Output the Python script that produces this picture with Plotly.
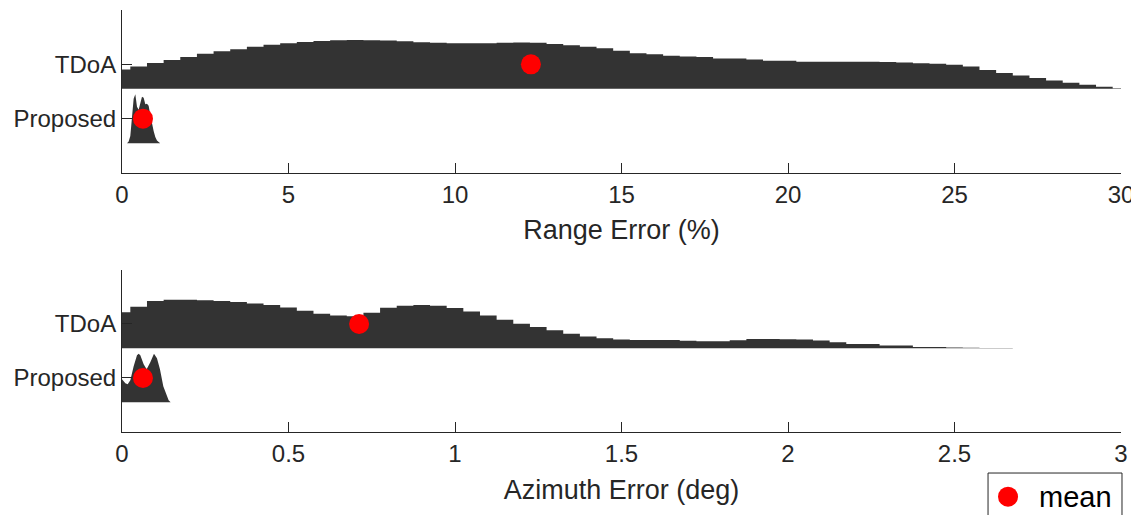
import plotly.graph_objects as go

# ---------------- data ----------------
categories = ["Proposed", "TDoA"]
cat_pos = [1, 2]

# Range error (%) - density profiles (relative heights)
range_tdoa_x = [0, 0.5, 1, 1.5, 2, 2.5, 3, 3.5, 4, 4.5, 5, 5.5, 6, 6.5, 7, 7.5, 8, 8.5, 9, 9.5,
                10, 10.5, 11, 11.5, 12, 12.5, 13, 13.5, 14, 14.5, 15, 15.5, 16, 16.5, 17, 17.5,
                18, 18.5, 19, 19.5, 20, 20.5, 21, 21.5, 22, 22.5, 23, 23.5, 24, 24.5, 25, 25.5,
                26, 26.5, 27, 27.5, 28, 28.5, 29, 29.5, 30]
range_tdoa_d = [19, 22, 25.5, 28.5, 31.5, 34.5, 37, 39, 41.5, 43.5, 45, 46.3, 47.3, 48, 48.3, 48,
                47.7, 47, 46, 45.5, 45, 45, 45, 45.5, 45.7, 45.5, 44.3, 43, 41.5, 40, 37.5, 35,
                34, 32.7, 32, 31.3, 30, 30, 29, 27.7, 27.7, 26.7, 26.7, 26.7, 26.7, 26.7, 26.5,
                26, 25.3, 24.7, 23.7, 22, 18.5, 15.7, 13.2, 10.7, 8.2, 6, 4, 2, 0.5]

range_prop_x = [0.15, 0.2, 0.25, 0.3, 0.35, 0.4, 0.45, 0.5, 0.55, 0.6, 0.65, 0.7, 0.75, 0.8,
                0.85, 0.9, 0.95, 1.0, 1.05, 1.1, 1.15]
range_prop_d = [0, 1.5, 7, 24, 44, 48.5, 36, 33, 40, 46, 45, 38.5, 39, 37, 28, 19, 12, 6, 2.5, 1, 0]

# Azimuth error (deg) - density profiles (relative heights)
az_tdoa_x = [0, 0.05, 0.1, 0.15, 0.2, 0.25, 0.3, 0.35, 0.4, 0.45, 0.5, 0.55, 0.6, 0.65, 0.7,
             0.75, 0.8, 0.85, 0.9, 0.95, 1.0, 1.05, 1.1, 1.15, 1.2, 1.25, 1.3, 1.35, 1.4, 1.45,
             1.5, 1.55, 1.6, 1.65, 1.7, 1.75, 1.8, 1.85, 1.9, 1.95, 2.0, 2.05, 2.1, 2.15, 2.2,
             2.25, 2.3, 2.35, 2.4, 2.45, 2.5, 2.55, 2.6, 2.65, 2.7]
az_tdoa_d = [35.7, 41, 46.7, 48, 48, 47.5, 46.7, 45.7, 44.3, 42.7, 40.3, 37, 34, 32.3, 31.7,
             35, 40, 42, 42.7, 42, 39.7, 36.3, 32.3, 28.3, 24.3, 21, 17.7, 14.3, 11.7, 10,
             8.7, 8.3, 8.3, 8.3, 7.5, 7, 7, 8, 9.3, 9.3, 9, 8.7, 7.7, 6, 4.3,
             4.3, 2.7, 2.7, 1.3, 1.3, 0.7, 0.5, 0.3, 0.2, 0]

az_prop_x = [0, 0.01, 0.017, 0.025, 0.035, 0.045, 0.05, 0.055, 0.065, 0.074, 0.085, 0.096,
             0.105, 0.114, 0.124, 0.134, 0.14, 0.146]
az_prop_d = [23, 19, 18, 22, 36, 47, 48.5, 47, 38, 33, 40, 48.4, 44, 33, 16, 6, 2, 0]

# means
range_means = [0.63, 12.28]   # Proposed, TDoA
az_means = [0.063, 0.712]

range_ticks = [0, 5, 10, 15, 20, 25, 30]
az_ticks = [0, 0.5, 1, 1.5, 2, 2.5, 3]
az_ticktext = ["0", "0.5", "1", "1.5", "2", "2.5", "3"]

# ---------------- styling ----------------
FILL = "#333333"
AX = "#262626"
FONT = "Liberation Sans, Arial, Helvetica, sans-serif"
HALF_OFFSET = 0.45   # baseline below category position
HEIGHT = 0.9         # peak height of each half-violin

fig = go.Figure()


def add_half_violin(xs, ds, pos, xa, ya, shape):
    m = max(ds)
    base = pos - HALF_OFFSET
    ys = [base + HEIGHT * d / m for d in ds]
    fig.add_trace(go.Scatter(
        x=list(xs) + [xs[-1], xs[0]], y=ys + [base, base],
        mode="lines", fill="toself", fillcolor=FILL,
        line=dict(width=0, color=FILL, shape=shape),
        xaxis=xa, yaxis=ya, showlegend=False, hoverinfo="skip"))


add_half_violin(range_tdoa_x, range_tdoa_d, cat_pos[1], "x", "y", "hvh")
add_half_violin(range_prop_x, range_prop_d, cat_pos[0], "x", "y", "linear")
add_half_violin(az_tdoa_x, az_tdoa_d, cat_pos[1], "x2", "y2", "hvh")
add_half_violin(az_prop_x, az_prop_d, cat_pos[0], "x2", "y2", "linear")

fig.add_trace(go.Scatter(x=range_means, y=cat_pos, mode="markers", name="mean",
                         marker=dict(color="#ff0000", size=20), xaxis="x", yaxis="y",
                         showlegend=False))
fig.add_trace(go.Scatter(x=az_means, y=cat_pos, mode="markers", name="mean",
                         marker=dict(color="#ff0000", size=20), xaxis="x2", yaxis="y2",
                         showlegend=False))

axis_common = dict(showline=True, linecolor=AX, linewidth=1, ticks="inside", ticklen=10,
                   tickcolor=AX, tickwidth=1, showgrid=False, zeroline=False,
                   ticklabeloverflow="allow",
                   tickfont=dict(size=24, color=AX, family=FONT))

# page body has an 8px margin: figure offset by 8px inside the window
fig.update_layout(
    width=1131, height=507,
    margin=dict(l=114, r=18, t=2, b=83, autoexpand=False),
    plot_bgcolor="white", paper_bgcolor="white",
    font=dict(family=FONT, color=AX),
    showlegend=False,
    xaxis=dict(domain=[0, 1], anchor="y", range=[0, 30], tickvals=range_ticks,
               title=dict(text="Range Error (%)", font=dict(size=27, color=AX), standoff=13),
               **axis_common),
    yaxis=dict(domain=[0.6137, 1.0], anchor="x", range=[0, 3], tickvals=cat_pos,
               ticktext=categories, **axis_common),
    xaxis2=dict(domain=[0, 1], anchor="y2", range=[0, 3], tickvals=az_ticks,
                ticktext=az_ticktext,
                title=dict(text="Azimuth Error (deg)", font=dict(size=27, color=AX), standoff=14),
                **axis_common),
    yaxis2=dict(domain=[0, 0.3839], anchor="x2", range=[0, 3], tickvals=cat_pos,
                ticktext=categories, **axis_common),
)

# legend box ("mean")
fig.add_shape(type="rect", xref="paper", yref="paper", x0=0.8669, x1=1.001,
              y0=-0.0972, y1=-0.215, line=dict(color=AX, width=1), fillcolor="white")
fig.add_shape(type="circle", xref="paper", yref="paper", xsizemode="pixel", ysizemode="pixel",
              xanchor=0.8869, yanchor=-0.1533, x0=-10, x1=10, y0=-10, y1=10,
              fillcolor="#ff0000", line=dict(width=0))
fig.add_annotation(xref="paper", yref="paper", x=0.9159, y=-0.1533, xanchor="left",
                   yanchor="middle", text="mean", showarrow=False,
                   font=dict(size=29, color="black", family=FONT))

fig.write_html("out.html")
